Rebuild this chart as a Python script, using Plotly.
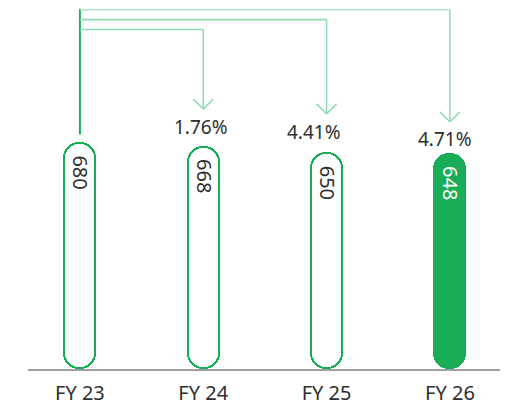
import plotly.graph_objects as go

# ---- data ----
categories = ["FY 23", "FY 24", "FY 25", "FY 26"]
values = [680, 668, 650, 648]
growth_labels = ["", "1.76%", "4.41%", "4.71%"]
filled = [False, False, False, True]

# ---- layout constants ----
W, H = 510, 406
ML, MR, MT, MB = 28, 10, 0, 30
PW, PH = W - ML - MR, H - MT - MB
X_MIN, X_MAX = -0.421, 3.406
Y_MAX = 1107.0
XU = (X_MAX - X_MIN) / PW        # data units per pixel (x)
YU = Y_MAX / PH                  # data units per pixel (y)

GREEN = "#1aad57"
GREEN_DARK = "#19b25c"
MINT = "#8fdab0"
MINT_LIGHT = "#b3e7ca"
TEXT = "#2e2e2e"
FONT = "Noto Sans"

BAR_PX = 33
LINE_PX = 2
R = BAR_PX / 2
idx = list(range(len(categories)))

fig = go.Figure()

# outer pills (green)
fig.add_trace(go.Bar(x=idx, y=values, base=[0] * len(idx),
                     width=BAR_PX * XU, marker=dict(color=GREEN, line_width=0, cornerradius=R),
                     hoverinfo="skip", showlegend=False))

# inner white for outlined pills
oi = [i for i in idx if not filled[i]]
ov = [values[i] for i in oi]
d = LINE_PX * YU
fig.add_trace(go.Bar(x=oi, y=[v - 2 * d for v in ov], base=[d] * len(oi),
                     width=(BAR_PX - 2 * LINE_PX) * XU,
                     marker=dict(color="white", line_width=0, cornerradius=R - LINE_PX),
                     hoverinfo="skip", showlegend=False))

annotations = []
# value labels inside pills
for i, v in enumerate(values):
    annotations.append(dict(x=i, y=v, xref="x", yref="y", text=str(v), showarrow=False,
                            textangle=90, yanchor="top", xanchor="center", yshift=-11, xshift=1,
                            font=dict(family=FONT, size=20, color="white" if filled[i] else TEXT)))

# connector arrows from FY23 to later years
def py(px):
    return 1 - (px - MT) / PH

levels_px = [30, 20, 10]      # horizontal line heights (px from top)
tips_px = [111, 116, 124]     # arrow tip heights
label_shift = [-2, -13, -5]
hcolors = [MINT, MINT, MINT_LIGHT]
shapes = []
shapes.append(dict(type="line", xref="x", yref="paper", x0=0, x1=0, y0=py(137), y1=py(9),
                   line=dict(color=GREEN_DARK, width=2)))
for k, i in enumerate(idx[1:]):
    lv = levels_px[k]
    tp = tips_px[k]
    shapes.append(dict(type="line", xref="x", yref="paper", x0=0, x1=i, y0=py(lv), y1=py(lv),
                       line=dict(color=hcolors[k], width=1.6)))
    shapes.append(dict(type="line", xref="x", yref="paper", x0=i, x1=i, y0=py(lv), y1=py(tp),
                       line=dict(color=MINT, width=1.5)))
    shapes.append(dict(type="path", xref="x", yref="paper",
                       path=f"M {i - 10 * XU} {py(tp - 10)} L {i} {py(tp)} L {i + 10 * XU} {py(tp - 10)}",
                       line=dict(color=MINT, width=1.5)))
    annotations.append(dict(x=i, y=py(tp + 18), xref="x", yref="paper", text=growth_labels[i],
                            showarrow=False, xanchor="center", yanchor="middle", xshift=label_shift[k],
                            font=dict(family=FONT, size=19, color=TEXT)))

fig.update_layout(
    width=W, height=H, margin=dict(l=ML, r=MR, t=MT, b=MB),
    paper_bgcolor="white", plot_bgcolor="white",
    barmode="overlay", bargap=0,
    xaxis=dict(range=[X_MIN, X_MAX], tickvals=idx, ticktext=categories, showgrid=False,
               zeroline=False, showline=True, linecolor="#a0a0a0", linewidth=1.5,
               ticks="", ticklabelstandoff=5, tickfont=dict(family=FONT, size=20, color=TEXT),
               fixedrange=True),
    yaxis=dict(range=[0, Y_MAX], visible=False, showgrid=False, zeroline=False, fixedrange=True),
    shapes=shapes, annotations=annotations, showlegend=False,
)

fig.write_html("out.html")
